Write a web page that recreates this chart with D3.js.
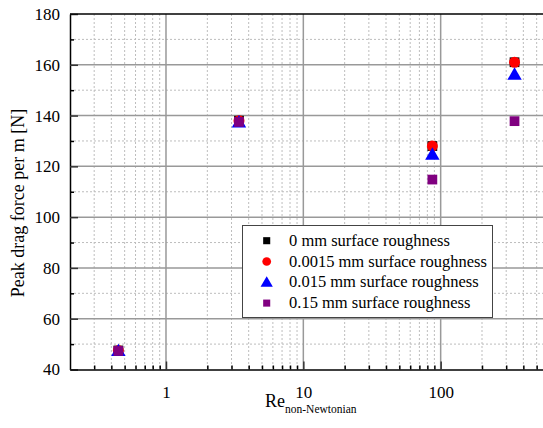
<!DOCTYPE html>
<html><head><meta charset="utf-8">
<script src="https://cdn.jsdelivr.net/npm/d3@7"></script>
<style>body{margin:0;background:#fff}svg{display:block}text{font-family:"Liberation Serif","Times New Roman",Times,serif}</style>
</head><body>
<svg id="c" width="543" height="428"></svg>
<script>
const reValues = [0.45, 3.4, 87, 345];
const rough0 = [47.5, 138, 128, 161];
const rough00015 = [47.5, 138, 128, 161];
const rough0015 = [47.5, 137.5, 124.8, 156.3];
const rough015 = [47.3, 137.5, 114.8, 137.8];
const seriesNames = ["0 mm surface roughness","0.0015 mm surface roughness","0.015 mm surface roughness","0.15 mm surface roughness"];
const yTicks = [40,60,80,100,120,140,160,180];
const xTicks = [1,10,100];

const svg = d3.select("#c");
const L=70, R=578, T=14, B=369.5;
const x = d3.scaleLog().domain([0.2,1000]).range([L,R]);
const y = d3.scaleLinear().domain([40,180]).range([B,T]);
const font = '"Liberation Serif", "Times New Roman", Times, serif';

const g = svg.append("g");
// minor grid
const xMinor = [];
[0.1,1,10,100].forEach(d=>{for(let k=2;k<=9;k++){const v=d*k; if(v>0.2 && v<1000 && x(v)<560) xMinor.push(v);}});
const yMinor = d3.range(50,180,20);
g.selectAll(".vm").data(xMinor).join("line").attr("x1",d=>x(d)).attr("x2",d=>x(d)).attr("y1",T).attr("y2",B)
 .attr("stroke","#bdbdbd").attr("stroke-width",1).attr("stroke-dasharray","2,2");
g.selectAll(".hm").data(yMinor).join("line").attr("x1",L).attr("x2",543).attr("y1",d=>y(d)).attr("y2",d=>y(d))
 .attr("stroke","#bdbdbd").attr("stroke-width",1).attr("stroke-dasharray","2,2");
// major grid
g.selectAll(".vM").data(xTicks).join("line").attr("x1",d=>x(d)).attr("x2",d=>x(d)).attr("y1",T).attr("y2",B)
 .attr("stroke","#999").attr("stroke-width",1.5);
g.selectAll(".hM").data(yTicks.slice(1,-1)).join("line").attr("x1",L).attr("x2",543).attr("y1",d=>y(d)).attr("y2",d=>y(d))
 .attr("stroke","#999").attr("stroke-width",1.5);

// axes
const yAxis = d3.axisLeft(y).tickValues(yTicks).tickSizeInner(-8).tickSizeOuter(0).tickPadding(16);
const ya = svg.append("g").attr("transform",`translate(${L},0)`).call(yAxis);
ya.attr("font-family",null);
ya.select(".domain").attr("stroke","#000").attr("stroke-width",1.5);
ya.selectAll(".tick line").attr("stroke","#333").attr("stroke-width",1.5);
ya.selectAll("text").style("font-family",font).style("font-size","17px").attr("fill","#000").attr("dx",6);
const yAxisMinor = d3.axisLeft(y).tickValues(yMinor).tickSizeInner(-4).tickSizeOuter(0).tickFormat("");
const yam = svg.append("g").attr("transform",`translate(${L},0)`).call(yAxisMinor);
yam.select(".domain").remove();
yam.selectAll(".tick line").attr("stroke","#000").attr("stroke-width",1.5);

const xAxis = d3.axisBottom(x).tickValues(xTicks).tickFormat(d3.format("d")).tickSizeInner(-8).tickSizeOuter(0).tickPadding(16);
const xa = svg.append("g").attr("transform",`translate(0,${B})`).call(xAxis);
xa.attr("font-family",null);
xa.select(".domain").attr("stroke","#000").attr("stroke-width",1.5);
xa.selectAll(".tick line").attr("stroke","#333").attr("stroke-width",1.5);
xa.selectAll("text").style("font-family",font).style("font-size","17px").attr("fill","#000");
const xAxisMinor = d3.axisBottom(x).tickValues(xMinor).tickSizeInner(-4).tickSizeOuter(0).tickFormat("");
const xam = svg.append("g").attr("transform",`translate(0,${B})`).call(xAxisMinor);
xam.select(".domain").remove();
xam.selectAll(".tick line").attr("stroke","#000").attr("stroke-width",1.5);

// top border
svg.append("line").attr("x1",L).attr("x2",543).attr("y1",T).attr("y2",T).attr("stroke","#000").attr("stroke-width",1.5);

// markers
const colors = ["#000000","#ff0000","#0000ff","#800080"];
const shapes = [d3.symbolSquare, d3.symbolCircle, d3.symbolTriangle, d3.symbolSquare];
const sizes = [95, 95, 90, 95];
const all = [rough0, rough00015, rough0015, rough015];
all.forEach((vals,i)=>{
  svg.append("g").selectAll("path").data(vals).join("path")
    .attr("d", d3.symbol(shapes[i], sizes[i]))
    .attr("transform",(d,j)=>`translate(${x(reValues[j])},${y(d) + (i===2?1.5:0)})`)
    .attr("fill",colors[i]);
});

// legend
const lg = svg.append("g");
lg.append("rect").attr("x",242.5).attr("y",225.5).attr("width",250).attr("height",92)
  .attr("fill","#fff").attr("stroke","#444").attr("stroke-width",1);
const lsz=[50,60,65,50];
seriesNames.forEach((n,i)=>{
  const cy = 240.7 + i*20.8;
  lg.append("path").attr("d",d3.symbol(shapes[i],lsz[i])).attr("transform",`translate(266.7,${cy + (i===2?1:0)})`).attr("fill",colors[i]);
  lg.append("text").attr("x",289).attr("y",cy+5).style("font-family",font).style("font-size","16.5px").attr("fill","#000").text(n);
});

// axis titles
svg.append("text").attr("transform","translate(24,203) rotate(-90)").attr("text-anchor","middle")
  .style("font-family",font).style("font-size","18px").attr("fill","#000").text("Peak drag force per m [N]");
const xt = svg.append("text").attr("x",265).attr("y",407).style("font-family",font).attr("fill","#000");
xt.append("tspan").style("font-size","18px").text("Re");
xt.append("tspan").style("font-size","11.5px").attr("dy",6).text("non-Newtonian");
</script>
</body></html>
